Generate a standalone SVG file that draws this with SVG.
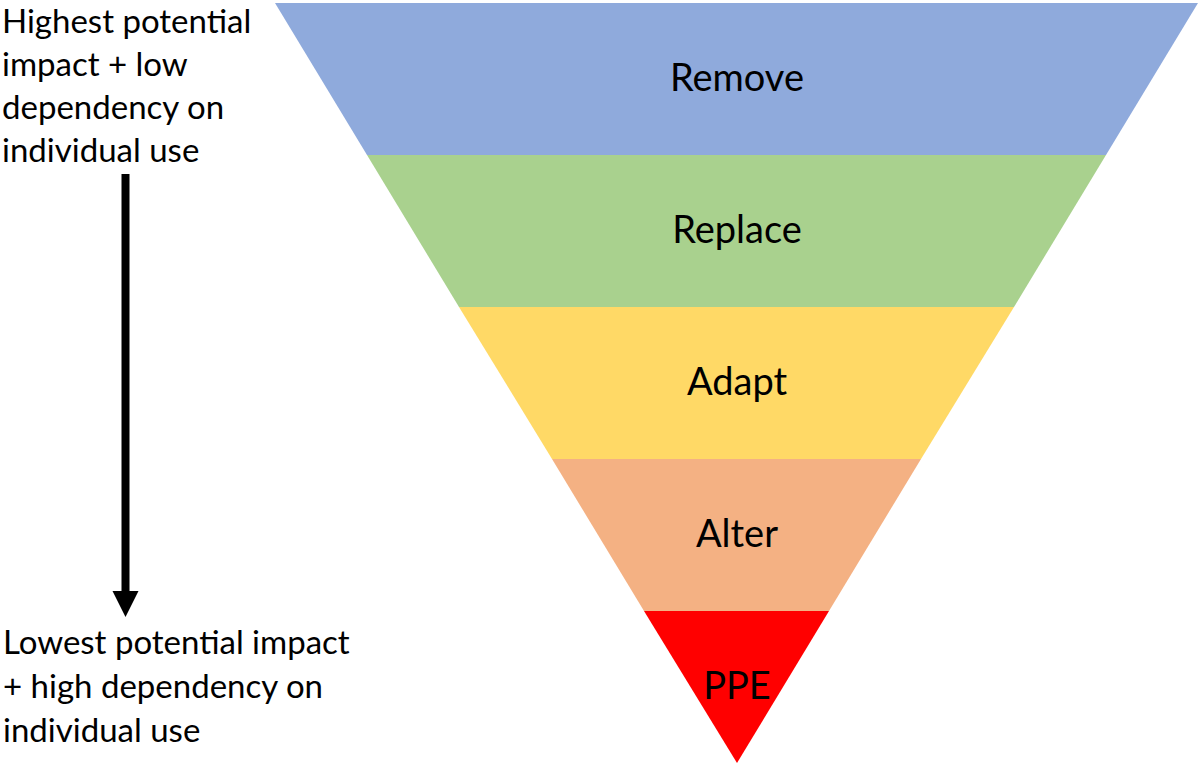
<svg xmlns="http://www.w3.org/2000/svg" width="1200" height="764" viewBox="0 0 1200 764">
<style>
.side{font-family:Lato,"Liberation Sans",sans-serif;font-size:33px;fill:#000}
.lab{font-family:Lato,"Liberation Sans",sans-serif;font-size:38px;fill:#000;text-anchor:middle}
</style>
<rect width="1200" height="764" fill="#fff"/>
<g id="remove">
<polygon points="275,3 1198,3 1106,155 367,155" fill="#8FAADC"/>
<text class="lab" x="737" y="91">Remove</text>
</g>
<g id="replace">
<polygon points="367,155 1106,155 1014,307 459,307" fill="#A9D18E"/>
<text class="lab" x="737" y="243">Replace</text>
</g>
<g id="adapt">
<polygon points="459,307 1014,307 921,459 552,459" fill="#FFD966"/>
<text class="lab" x="737" y="395">Adapt</text>
</g>
<g id="alter">
<polygon points="552,459 921,459 829,611 644,611" fill="#F4B183"/>
<text class="lab" x="737" y="547">Alter</text>
</g>
<g id="ppe">
<polygon points="644,611 829,611 737,763" fill="#FF0000"/>
<text class="lab" x="737" y="699">PPE</text>
</g>
<g id="top-label">
<text class="side" x="2" y="33">Highest potential</text>
<text class="side" x="2" y="76">impact + low</text>
<text class="side" x="2" y="119">dependency on</text>
<text class="side" x="2" y="162">individual use</text>
</g>
<g id="bottom-label">
<text class="side" x="3" y="654">Lowest potential impact</text>
<text class="side" x="3" y="698">+ high dependency on</text>
<text class="side" x="3" y="742">individual use</text>
</g>
<g id="connectors">
<line x1="125.5" y1="174" x2="125.5" y2="592" stroke="#000" stroke-width="8"/>
<polygon points="112.5,591 138.5,591 125.5,617" fill="#000"/>
</g>
</svg>
